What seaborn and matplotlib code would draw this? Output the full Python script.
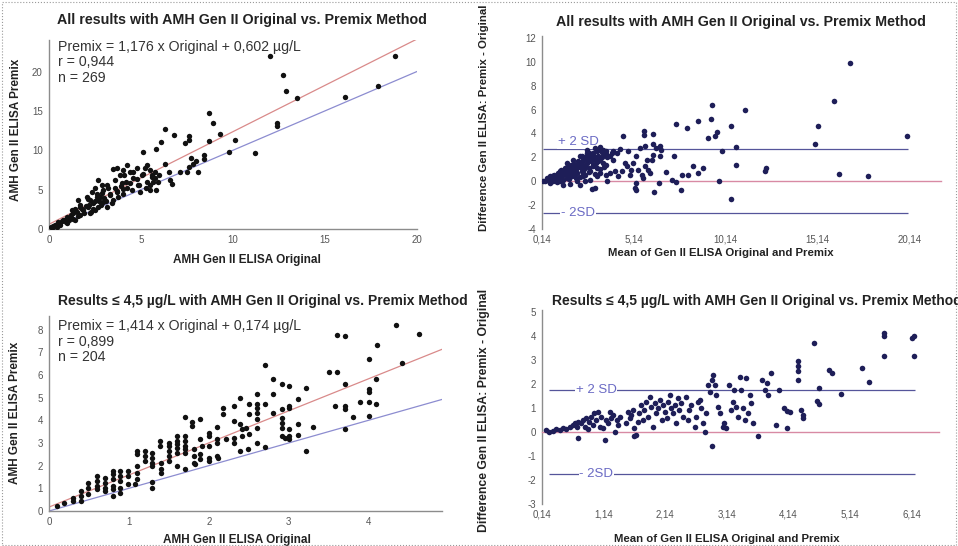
import numpy as np
import pandas as pd
import seaborn as sns
import matplotlib.pyplot as plt
from matplotlib.patches import Rectangle

# --- Panel 1: all results, Original vs. Premix ---
all_orig = [18.8, 12.0, 12.7, 12.9, 13.5, 16.1, 17.9, 12.4, 12.4, 11.2, 9.8, 10.1, 9.3, 8.7, 8.9,
            8.7, 8.4, 8.4, 7.7, 8.0, 8.1, 7.6, 7.8, 7.6, 7.6, 7.4, 6.8, 6.3, 6.1, 5.8, 5.1, 6.3,
            6.5, 6.6, 6.7, 7.1, 7.5,
            5.31, 5.22, 5.49, 5.58, 5.76, 5.76, 5.67, 5.49, 5.27, 4.95, 4.86, 5.04, 4.76, 4.58,
            4.58, 4.40, 4.26, 4.22, 4.04, 3.86, 3.68, 3.59, 3.95, 4.04, 3.68, 3.77, 3.50, 3.32,
            3.22, 3.13, 2.95, 2.68, 2.77, 3.13, 2.95, 2.59, 2.41, 2.23, 2.05, 2.14, 1.87, 1.68,
            1.59, 1.68, 1.32, 1.41, 1.14, 0.96, 0.78, 0.60, 0.42, 0.24, 0.51, 1.23, 2.32, 2.50,
            2.86, 2.68, 2.50, 2.23,
            0.1, 0.2, 0.3, 0.5, 0.6, 0.7, 0.8, 0.9, 1.0, 1.1, 1.2, 1.3, 1.5, 1.6, 1.8, 1.9, 2.0,
            2.2, 2.4, 2.5, 2.6, 2.7, 2.9, 3.0, 3.3, 3.4, 3.7, 3.9, 4.2, 4.5, 4.8, 5.3, 5.5, 5.8,
            1.4, 1.7, 2.1, 2.3, 2.8, 3.1, 3.6, 4.0, 4.4, 4.9, 5.1, 5.6, 5.9, 6.0, 3.5, 4.1]
all_premix = [22.0, 22.0, 19.5, 17.5, 16.6, 16.7, 18.2, 13.5, 13.1, 9.6, 9.8, 11.3, 12.1, 14.7, 13.5,
              11.2, 9.4, 8.9, 9.0, 8.6, 7.3, 7.9, 8.3, 11.8, 11.3, 10.9, 12.0, 12.7, 11.0, 10.2, 9.8, 8.3,
              7.2, 6.2, 5.7, 7.2, 7.3,
              8.12, 7.70, 7.49, 6.85, 7.28, 6.43, 6.01, 5.58, 5.16, 4.74, 5.58, 6.85, 7.70, 7.28,
              6.43, 5.80, 5.16, 8.12, 7.49, 6.85, 7.70, 6.22, 5.80, 5.03, 4.74, 4.10, 3.68, 4.31,
              5.16, 5.58, 4.95, 6.22, 4.10, 2.83, 3.47, 4.10, 3.26, 3.68, 4.10, 2.83, 2.41, 2.83,
              3.68, 1.78, 1.99, 1.14, 1.35, 0.72, 1.14, 0.72, 0.30, 0.30, 0.93, 2.41, 4.74, 5.16,
              5.58, 2.83, 2.41, 1.99,
              0.2, 0.4, 0.5, 0.7, 0.5, 1.0, 1.2, 0.9, 1.5, 1.1, 1.8, 1.3, 2.2, 1.7, 2.5, 2.0, 2.9,
              3.1, 2.6, 3.6, 4.4, 3.5, 4.6, 4.0, 4.5, 3.3, 4.8, 5.5, 6.0, 4.9, 6.3, 6.0, 5.0, 4.9,
              2.6, 3.0, 3.8, 2.2, 3.0, 3.6, 5.2, 4.4, 7.3, 5.6, 7.0, 6.6, 6.0, 6.8, 7.6, 6.9]
all_slope, all_icpt, all_r, all_n = 1.176, 0.602, 0.944, 269

# --- Panel 2: Bland-Altman, all results ---
all_mean = [16.88, 16.03, 15.16, 15.01, 16.30, 17.88, 20.01, 11.17, 10.45, 10.68, 10.68, 9.96, 9.78,
            10.41, 9.42, 9.36, 9.69, 9.58, 9.18, 8.64, 8.06, 7.46, 8.91, 8.64, 8.37, 8.09, 7.78,
            7.69, 7.46, 7.19, 7.33, 6.88, 6.50, 6.23, 12.26, 12.35,
            5.70, 5.70, 6.19, 6.19, 6.37, 6.55, 6.64, 6.55, 6.19, 6.15, 5.83, 5.74, 5.92, 6.01,
            5.65, 5.56, 5.28, 5.19, 5.28, 4.92, 5.01, 5.37, 5.74, 5.46, 5.28, 5.10, 4.83, 4.65,
            4.56, 4.38, 4.20, 4.74, 4.47, 4.29, 4.11, 4.02, 3.93, 3.66, 3.02, 3.84,
            0.21, 0.39, 0.57, 0.76, 0.94, 1.12, 1.30, 1.48, 1.66, 1.84, 2.02, 2.21, 2.39, 2.57,
            2.75, 2.93, 3.11, 3.29, 3.47, 3.65, 0.57, 0.94, 1.30, 1.66, 2.02, 2.39, 2.75, 3.11,
            3.47, 3.84, 1.48, 1.84, 2.21, 2.57, 2.93, 3.29, 3.65, 3.11, 2.75, 2.39, 1.30, 1.66,
            2.02, 0.76, 1.12, 2.21, 2.48, 3.29, 2.93, 4.02, 2.84,
            0.3, 0.5, 0.7, 0.9, 1.0, 1.2, 1.4, 1.6, 1.8, 2.0, 2.2, 2.4, 2.6, 2.8, 3.0, 3.2, 1.5,
            1.9, 2.3, 2.7, 3.1, 3.4, 3.6, 3.0, 2.6, 1.1, 0.6, 1.7, 2.1, 2.5,
            0.4, 0.6, 0.8, 0.9, 1.0, 1.1, 1.2, 1.3, 1.4, 1.5, 1.6, 1.7, 1.8, 1.9, 2.0, 2.1, 2.2,
            2.3, 2.4, 2.5, 2.6, 2.7, 2.8, 2.9, 3.0, 3.1, 3.2, 3.3, 3.4, 3.5, 3.6, 3.7, 1.0, 1.6,
            2.0, 2.5, 2.9, 3.3, 3.5, 1.2, 0.5, 0.7, 1.5, 1.9, 2.3, 2.7]
all_diff = [9.92, 6.76, 4.66, 3.13, 0.64, 0.42, 3.77, 5.95, 4.66, 2.85, 1.34, 2.57, 0.0,
            -1.48, 6.37, 5.22, 4.11, 3.77, 3.63, 5.03, 4.47, 4.83, 1.12, 0.70, 1.31, 0.56, 0.56,
            -0.75, -0.08, 0.14, 2.09, 0.78, -0.14, -0.89, 0.84, 1.12,
            4.19, 3.91, 3.97, 3.16, 2.79, 2.93, 2.65, 2.09, 2.23, 1.82, 1.82, 1.26, 0.98, 0.70,
            0.28, 0.56, -0.14, -0.56, -0.70, 0.56, 0.98, 0.98, 2.93, 2.79, 2.09, 1.54, 2.51, 1.54,
            3.77, 2.71, 2.37, 1.26, 0.84, 0.42, 0.84, 1.82, 2.37, 0.0, -0.56, 0.70,
            0.0, 0.14, 0.28, 0.42, 0.42, 0.70, 0.84, 0.98, 1.12, 1.26, 1.40, 1.54, 1.82, 1.96,
            2.09, 2.37, 2.51, 2.65, 2.65, 2.51, -0.14, -0.08, 0.14, 0.42, 0.70, 0.70, 0.84, 1.12,
            1.54, 2.09, 1.54, 1.82, 2.09, 2.37, 2.09, 1.82, 1.40, 0.42, 0.14, 0.42, -0.28, -0.22,
            0.0, 0.0, 0.0, -0.28, 0.0, 0.70, 1.40, 2.51, -0.64,
            0.05, 0.1, 0.2, 0.25, 0.5, 0.4, 0.6, 0.7, 0.9, 1.0, 1.2, 1.3, 1.5, 1.7, 1.9, 2.1, 0.3,
            0.5, 0.9, 1.1, 1.5, 2.0, 2.3, 2.8, 2.6, 0.9, 0.4, 1.4, 1.7, 2.0,
            0.25, 0.05, 0.55, 0.1, 0.7, 0.2, 0.95, 0.5, 1.1, 0.8, 0.15, 1.25, 0.45, 1.45, 0.75,
            1.2, 0.35, 1.6, 1.0, 0.55, 1.85, 0.8, 2.3, 1.25, 0.6, 2.0, 1.7, 1.0, 2.45, 1.2, 0.5,
            2.0, 0.0, 0.6, 0.25, 1.3, 1.9, 2.9, 2.3, 0.3, 0.3, 0.45, 1.2, 0.9, 2.1, 2.4]
all_sd2 = 2.7

# --- Panel 3: results <= 4.5 µg/L, Original vs. Premix ---
low_orig = [4.63, 4.34, 4.11, 4.00, 4.42, 4.09, 4.00, 4.00, 4.00, 3.89, 4.09, 4.00, 3.80, 3.60,
            3.71, 3.50, 3.60, 3.71, 3.58, 3.71, 3.71, 3.71, 3.31, 3.22, 3.22, 3.12, 3.12, 3.12,
            3.01, 3.01, 3.01, 3.01, 3.01, 2.92, 3.01, 2.92, 2.92, 2.92, 2.92, 2.92, 2.96, 2.81,
            2.80, 2.80, 2.71, 2.71, 2.71, 2.60, 2.60, 2.60, 2.60, 2.60, 2.60, 2.60, 2.51, 2.51,
            2.46, 2.51, 2.49, 2.39, 2.39, 2.41, 2.41, 2.31, 2.31, 2.31, 2.31, 2.39, 2.18, 2.18,
            2.10, 2.10, 2.10, 2.10, 2.12, 2.21, 2.00, 2.00, 2.00, 2.00, 2.00, 1.89, 1.89, 1.91,
            1.89, 1.89, 1.79, 1.79, 1.81, 1.81, 1.81, 1.83, 1.70, 1.70, 1.70, 1.70, 1.70, 1.70,
            1.70, 1.60, 1.60, 1.60, 1.60, 1.60, 1.60, 1.50, 1.50, 1.50, 1.50, 1.39, 1.39, 1.40,
            1.40, 1.40, 1.50, 1.29, 1.29, 1.29, 1.29, 1.29, 1.29, 1.20, 1.20, 1.20, 1.10, 1.10,
            1.10, 1.10, 1.10, 1.08, 0.99, 0.99, 0.99, 0.89, 0.89, 0.89, 0.89, 0.89, 0.80, 0.80,
            0.80, 0.80, 0.80, 0.80, 0.70, 0.70, 0.70, 0.70, 0.60, 0.60, 0.60, 0.60, 0.49, 0.49,
            0.49, 0.40, 0.40, 0.40, 0.30, 0.30, 0.19, 0.10]
low_premix = [7.81, 8.19, 7.34, 6.71, 6.53, 5.83, 5.36, 5.26, 4.80, 4.82, 4.73, 4.21, 4.14, 7.78,
              7.71, 6.12, 6.12, 5.61, 4.63, 4.63, 4.52, 3.63, 3.72, 5.43, 2.64, 4.95, 3.83, 3.33,
              4.63, 4.55, 3.60, 3.30, 3.16, 5.58, 5.51, 4.48, 4.11, 3.89, 3.67, 3.30, 3.23, 5.83,
              5.18, 4.33, 6.42, 4.70, 2.83, 5.14, 4.70, 4.55, 4.33, 4.04, 3.67, 3.01, 4.73, 4.26,
              3.67, 3.38, 2.75, 4.99, 3.82, 3.63, 3.30, 4.63, 3.96, 3.23, 3.01, 2.64, 4.55, 4.26,
              3.72, 3.16, 3.01, 2.42, 2.35, 3.16, 3.45, 3.30, 2.86, 2.35, 2.20, 4.04, 3.16, 2.86,
              2.50, 2.28, 3.94, 3.74, 2.72, 2.42, 2.13, 2.06, 4.16, 3.30, 3.08, 2.86, 2.72, 2.57,
              1.84, 3.30, 3.08, 2.94, 2.79, 2.57, 1.98, 3.01, 2.86, 2.64, 2.42, 3.08, 2.86, 2.13,
              1.84, 1.69, 2.20, 2.57, 2.35, 2.13, 1.98, 1.29, 1.03, 2.64, 2.42, 2.20, 2.64, 2.50,
              1.98, 1.69, 1.39, 1.17, 1.76, 1.54, 1.17, 1.76, 1.54, 1.32, 1.03, 0.81, 1.76, 1.62,
              1.39, 1.10, 0.95, 0.66, 1.47, 1.25, 1.03, 0.88, 1.54, 1.32, 1.10, 0.95, 1.25, 1.03,
              0.73, 0.88, 0.66, 0.44, 0.59, 0.44, 0.37, 0.22]
low_slope, low_icpt, low_r, low_n = 1.414, 0.174, 0.899, 204

# --- Panel 4: Bland-Altman, results <= 4.5 µg/L ---
low_mean = [0.21, 0.26, 0.32, 0.37, 0.43, 0.48, 0.53, 0.59, 0.64, 0.67, 0.70, 0.72, 0.78, 0.80,
            0.83, 0.86, 0.89, 0.91, 0.94, 0.97, 0.99, 1.02, 1.05, 1.08, 1.10, 1.13, 1.16, 1.18,
            1.21, 1.24, 1.26, 1.29, 1.32, 1.35, 1.37, 1.40, 1.51, 1.53, 1.56, 1.59, 1.62, 1.64,
            1.67, 1.70, 1.72, 1.75, 1.78, 1.80, 1.83, 1.86, 1.89, 1.91, 1.94, 1.97, 1.99, 2.02,
            2.05, 2.08, 2.10, 2.13, 2.16, 2.18, 2.21, 2.24, 2.26, 2.29, 2.32, 2.35, 2.37, 2.40,
            2.43, 2.48, 2.51, 2.53, 2.56, 2.62, 2.64, 2.67, 2.70, 2.72, 2.75, 2.78, 2.80, 2.83,
            2.86, 2.89, 2.91, 2.94, 2.97, 2.99, 3.02, 3.08, 3.10, 3.13, 3.18, 3.21, 3.24, 3.26,
            3.29, 3.32, 3.35, 3.37, 3.40, 3.43, 3.45, 3.48, 3.51, 3.53, 3.56, 0.72, 1.64, 2.90,
            3.71, 3.79, 3.76, 3.80, 3.86, 3.65, 3.99, 3.94, 4.07, 4.11, 4.17, 4.11, 4.34, 4.38,
            4.38, 4.29, 4.29, 4.29, 4.30, 4.55, 4.63, 4.60, 4.63, 4.79, 4.84, 4.99, 5.33, 5.44,
            5.68, 5.68, 5.68, 6.14, 6.18, 6.17]
low_diff = [0.08, 0.01, 0.06, 0.11, 0.08, 0.15, 0.11, 0.22, 0.29, 0.36, 0.19, 0.43, 0.36, 0.50,
            0.22, 0.57, 0.11, 0.43, 0.64, 0.29, 0.78, 0.50, 0.85, 0.22, 0.64, 0.15, -0.33, 0.50,
            0.36, 0.85, 0.57, 0.71, 0.01, 0.50, 0.29, 0.64, 0.36, 0.85, 0.57, 0.71, 0.92, 0.15,
            -0.13, 0.43, 0.78, 1.13, 0.50, 0.92, 1.26, 0.64, 1.47, 1.06, 0.22, 1.19, 0.78, 0.99,
            1.33, 0.50, 1.13, 0.85, 0.57, 1.26, 1.54, 0.99, 0.78, 1.13, 0.36, 1.40, 0.92, 1.19,
            0.64, 1.47, 0.50, 0.92, 1.13, 0.22, 0.64, 1.26, 1.33, 0.99, 0.36, 0.01, 0.78, 1.96,
            1.68, 2.17, 2.38, 1.96, 1.54, 1.06, 0.78, 0.22, 0.36, 0.15, 1.96, 0.92, 1.26, 1.75,
            1.06, 0.64, 2.28, 1.75, 0.99, 0.50, 2.24, 0.78, 1.54, 1.19, 0.36, -0.26, -0.17, -0.60,
            2.18, 2.04, 1.77, 1.56, 2.46, -0.18, 1.74, 0.28, 1.00, 0.86, 0.82, 0.17, 0.93, 0.72,
            0.58, 2.95, 2.74, 2.53, 2.16, 3.69, 1.84, 1.28, 1.17, 2.57, 2.46, 1.59, 2.67, 2.07,
            4.13, 3.99, 3.18, 3.92, 3.99, 3.18]
low_sd2 = 1.76

titles = ["All results with AMH Gen II Original vs. Premix Method",
          "Results \u2264 4,5 \u00b5g/L with AMH Gen II Original vs. Premix Method"]
ba_ticks_all = [0.14, 5.14, 10.14, 15.14, 20.14]
ba_ticks_low = [0.14, 1.14, 2.14, 3.14, 4.14, 5.14, 6.14]

W, H = 958, 546
AXIS_GREY = '#8c8c8c'
DOT_BLACK = '#111111'
DOT_NAVY = '#1e1e58'
RED_LINE = '#d98a8a'
BLUE_LINE = '#8c8cd0'
SD_LINE = '#55559a'
SD_TEXT = '#6a6ac4'
ZERO_LINE = '#d88aa4'

sns.set_style('white')
plt.rcParams['font.family'] = ['Liberation Sans', 'DejaVu Sans']
plt.rcParams['axes.unicode_minus'] = False

fig = plt.figure(figsize=(W / 100, H / 100), dpi=100)


def add_axes_px(left, top, right, bottom):
    return fig.add_axes([left / W, 1 - bottom / H, (right - left) / W, (bottom - top) / H])


def ftext(xp, yp, s, **kw):
    fig.text(xp / W, 1 - yp / H, s, **kw)


def comma(v, nd):
    return f"{v:.{nd}f}".replace('.', ',')


def style_axes(ax):
    for side in ['top', 'right']:
        ax.spines[side].set_visible(False)
    for side in ['left', 'bottom']:
        ax.spines[side].set_color(AXIS_GREY)
        ax.spines[side].set_linewidth(1.0)
    ax.tick_params(direction='inout', length=5, width=0.8, color=AXIS_GREY,
                   labelsize=7, labelcolor='#555555', pad=2)


def place_labels(ax, xlabel, xpos, ylabel, ypos, axis_for_x=None, size=8.5, ysize=None):
    xa = axis_for_x if axis_for_x is not None else ax
    xa.set_xlabel(xlabel, fontsize=size, fontweight='bold', color='#222222')
    ax.set_ylabel(ylabel, fontsize=ysize or size, fontweight='bold', color='#222222')
    inv = ax.transAxes.inverted()
    xx, xy = inv.transform((xpos[0], H - xpos[1]))
    yx, yy = inv.transform((ypos[0], H - ypos[1]))
    xa.xaxis.set_label_coords(xx, xy, transform=ax.transAxes)
    xa.xaxis.label.set_va('center')
    ax.yaxis.set_label_coords(yx, yy)
    ax.yaxis.label.set_va('center')


def scatter_panel(ax, x, y, slope, icpt, xlim, ylim, xticks, yticks):
    style_axes(ax)
    ax.set_xlim(*xlim)
    ax.set_ylim(*ylim)
    line_x = np.array(xlim)
    sns.lineplot(x=line_x, y=line_x, ax=ax, color=BLUE_LINE, linewidth=0.9)
    sns.lineplot(x=line_x, y=slope * line_x + icpt, ax=ax, color=RED_LINE, linewidth=0.9)
    df = pd.DataFrame({'orig': x, 'premix': y})
    sns.scatterplot(data=df, x='orig', y='premix', ax=ax, color=DOT_BLACK, s=15,
                    linewidth=0, legend=False, zorder=3)
    ax.set_xticks(xticks)
    ax.set_yticks(yticks)


def ba_panel(ax, x, y, sd2, xlim, ylim, xticks, yticks, sd_span, lab_x, up_shift):
    style_axes(ax)
    ax.set_xlim(*xlim)
    ax.set_ylim(*ylim)
    ax.spines['bottom'].set_position(('data', 0))
    ax.spines['bottom'].set_color(ZERO_LINE)
    ax.set_xticks(xticks)
    ax.tick_params(axis='x', labelbottom=False, color=AXIS_GREY, length=6)
    ax.set_yticks(yticks)
    sec = ax.secondary_xaxis('bottom')
    sec.spines['bottom'].set_visible(False)
    sec.set_xticks(xticks)
    sec.set_xticklabels([comma(t, 2) for t in xticks])
    sec.tick_params(length=0, labelsize=7, labelcolor='#555555', pad=4)
    for level, txt, shift in [(sd2, '+ 2 SD', up_shift), (-sd2, '- 2SD', 0)]:
        ax.hlines(level, sd_span[0], sd_span[1], color=SD_LINE, linewidth=0.9, zorder=1)
        ax.text(lab_x, level + shift, txt, ha='center', va='center', fontsize=9.5, color=SD_TEXT,
                bbox=dict(facecolor='white', edgecolor='none', pad=0.5), zorder=2)
    df = pd.DataFrame({'mean': x, 'diff': y})
    sns.scatterplot(data=df, x='mean', y='diff', ax=ax, color=DOT_NAVY, s=16,
                    linewidth=0, legend=False, zorder=3)
    return sec


# top-left
ax1 = add_axes_px(49, 40, 417, 229)
scatter_panel(ax1, all_orig, all_premix, all_slope, all_icpt, (0, 20), (0, 24),
              [0, 5, 10, 15, 20], [0, 5, 10, 15, 20])
place_labels(ax1, 'AMH Gen II ELISA Original', (247, 260), 'AMH Gen II ELISA Premix', (16, 130))

# top-right
ax2 = add_axes_px(542, 35.6, 941, 229)
sec2 = ba_panel(ax2, all_mean, all_diff, all_sd2, (0.14, 21.86), (-4, 12.2), ba_ticks_all,
                list(range(-4, 13, 2)), (0.21, 20.05), 2.1, 0.6)
place_labels(ax2, 'Mean of Gen II ELISA Original and Premix', (721, 253),
             'Difference Gen II ELISA: Premix - Original', (484, 118), axis_for_x=sec2, size=8.2)

# bottom-left
ax3 = add_axes_px(49, 316, 442, 511)
scatter_panel(ax3, low_orig, low_premix, low_slope, low_icpt, (0, 4.92), (0, 8.6),
              [0, 1, 2, 3, 4], list(range(0, 9)))
place_labels(ax3, 'AMH Gen II ELISA Original', (237, 540), 'AMH Gen II ELISA Premix', (15, 413))

# bottom-right
ax4 = add_axes_px(542, 309.6, 939, 504)
sec4 = ba_panel(ax4, low_mean, low_diff, low_sd2, (0.14, 6.58), (-3, 5.1), ba_ticks_low,
                list(range(-3, 6)), (0.25, 6.19), 1.02, 0)
place_labels(ax4, 'Mean of Gen II ELISA Original and Premix', (727, 539),
             'Difference Gen II ELISA: Premix - Original', (484, 410), axis_for_x=sec4,
             size=8.2, ysize=8.8)

# titles and regression text (the bottom-right title runs off the edge as in the scan)
title_kw = dict(fontsize=10.3, fontweight='bold', color='#222222', va='center')
ftext(242, 20, titles[0], ha='center', **title_kw)
ftext(741, 22, titles[0], ha='center', **title_kw)
ftext(58, 301, titles[1], ha='left', **dict(title_kw, fontsize=10.0))
ftext(552, 301, titles[1], ha='left', **dict(title_kw, fontsize=10.0))

stat_kw = dict(fontsize=10.2, color='#333333', va='center', ha='left')
for top, slope, icpt, r, n in [(47, all_slope, all_icpt, all_r, all_n),
                               (326, low_slope, low_icpt, low_r, low_n)]:
    ftext(58, top, f"Premix = {comma(slope, 3)} x Original + {comma(icpt, 3)} \u00b5g/L", **stat_kw)
    ftext(58, top + 15.5, f"r = {comma(r, 3)}", **stat_kw)
    ftext(58, top + 31, f"n = {n}", **stat_kw)

# light dotted frame like the scanned figure
fig.patches.append(Rectangle((0.002, 0.002), 0.996, 0.994, transform=fig.transFigure,
                             fill=False, linestyle=':', edgecolor='#9a9a9a', linewidth=0.8))

fig.savefig('out.png', dpi=100)
